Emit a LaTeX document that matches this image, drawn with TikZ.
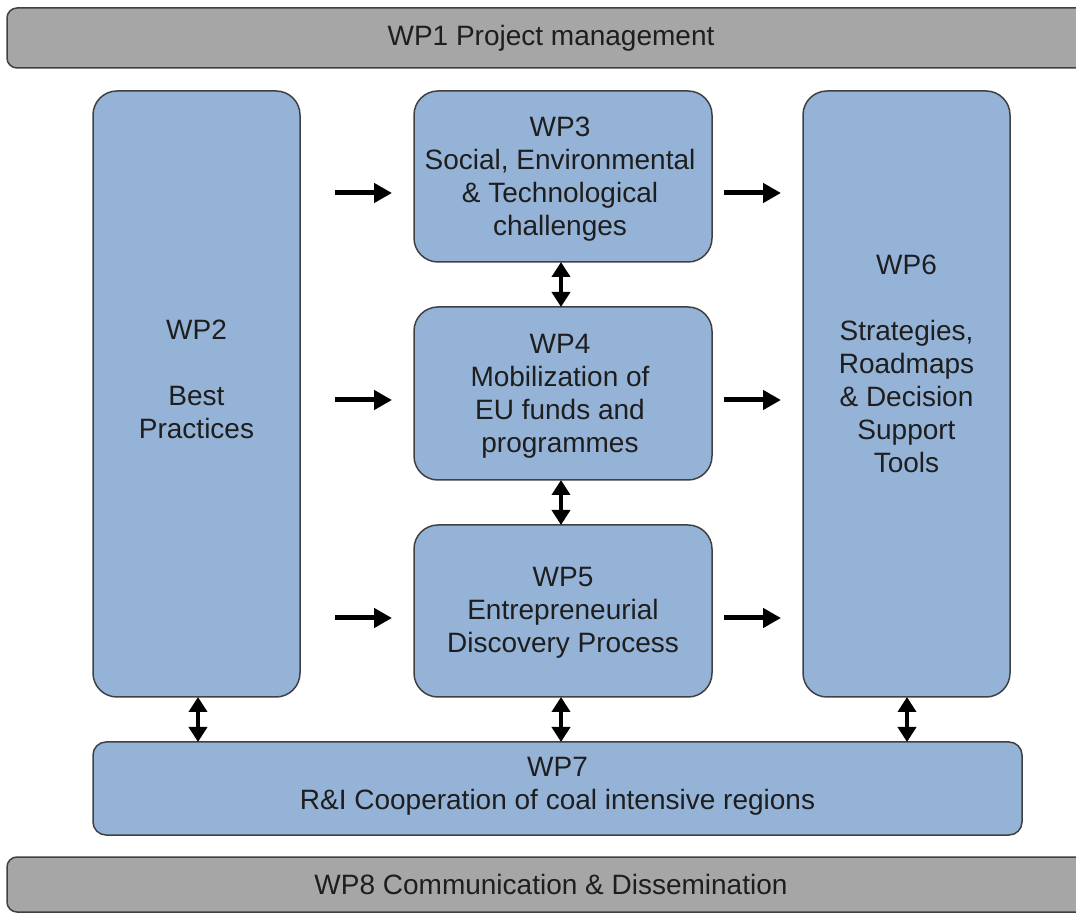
\documentclass[tikz,border=0pt]{standalone}
\usepackage{fontspec}
\setmainfont{Liberation Sans}
\usetikzlibrary{arrows.meta,calc}
\definecolor{wpblue}{HTML}{95B3D7}
\definecolor{wpgrey}{HTML}{A6A6A6}
\definecolor{wpborder}{HTML}{404040}
\definecolor{wptext}{HTML}{1E1E1E}
\begin{document}
\begin{tikzpicture}[x=0.5pt,y=-0.5pt,
  every node/.style={font=\fontsize{14pt}{16.5pt}\selectfont, text=wptext, align=center, inner sep=0pt, outer sep=0pt},
  bar/.style={draw=wpborder, line width=0.75pt, fill=wpgrey, rounded corners=5pt, minimum width=544pt},
  wpbox/.style={draw=wpborder, line width=0.75pt, fill=wpblue, rounded corners=12pt},
  flow/.style={line width=2.5pt, -{Triangle[length=9pt,width=9.5pt]}},
  link/.style={line width=2pt, {Triangle[length=7.5pt,width=9pt]}-{Triangle[length=7.5pt,width=9pt]}}
]
\useasboundingbox (0,0) rectangle (1076,913);
% bars
\node[bar, minimum height=30pt] (wp1) at (551,38) {WP1 Project management};
\node[bar, minimum height=27.5pt] (wp8) at (551,884.5) {WP8 Communication \& Dissemination};
% boxes
\node[wpbox, minimum width=103.5pt, minimum height=303pt] (wp2) at (196.5,394) {};
\node (wp2t) at (196.5,379) {WP2\\[16.5pt]Best\\Practices};
\node[wpbox, minimum width=149pt, minimum height=85.5pt] (wp3) at (563,176.5) {};
\node (wp3t) at (560,179) {WP3\\Social, Environmental\\\& Technological\\challenges};
\node[wpbox, minimum width=149pt, minimum height=86.5pt] (wp4) at (563,393.5) {};
\node (wp4t) at (560,396) {WP4\\Mobilization of\\EU funds and\\programmes};
\node[wpbox, minimum width=149pt, minimum height=86pt] (wp5) at (563,611) {};
\node (wp5t) at (563,613) {WP5\\Entrepreneurial\\Discovery Process};
\node[wpbox, minimum width=103.5pt, minimum height=303pt] (wp6) at (906.5,394) {};
\node (wp6t) at (906.5,364) {WP6\\[16.5pt]Strategies,\\Roadmaps\\\& Decision\\Support\\Tools};
\node[wpbox, rounded corners=6.5pt, minimum width=464.5pt, minimum height=46.5pt] (wp7) at (557.5,788.5) {};
\node (wp7t) at (557.5,786.5) {WP7\\R\&I Cooperation of coal intensive regions};
% arrow coordinates
\coordinate (a1s) at (335,193); \coordinate (a1e) at (392,193);
\coordinate (a2s) at (335,400); \coordinate (a2e) at (392,400);
\coordinate (a3s) at (335,618); \coordinate (a3e) at (392,618);
\coordinate (b1s) at (724,193); \coordinate (b1e) at (781,193);
\coordinate (b2s) at (724,400); \coordinate (b2e) at (781,400);
\coordinate (b3s) at (724,618); \coordinate (b3e) at (781,618);
\draw[flow] (a1s) -- (a1e);
\draw[flow] (a2s) -- (a2e);
\draw[flow] (a3s) -- (a3e);
\draw[flow] (b1s) -- (b1e);
\draw[flow] (b2s) -- (b2e);
\draw[flow] (b3s) -- (b3e);
% double arrows
\draw[link] (wp3.south -| 561,0) -- (wp4.north -| 561,0);
\draw[link] (wp4.south -| 561,0) -- (wp5.north -| 561,0);
\draw[link] (wp2.south -| 198,0) -- (wp7.north -| 198,0);
\draw[link] (wp5.south -| 561,0) -- (wp7.north -| 561,0);
\draw[link] (wp6.south -| 907,0) -- (wp7.north -| 907,0);
\end{tikzpicture}
\end{document}
